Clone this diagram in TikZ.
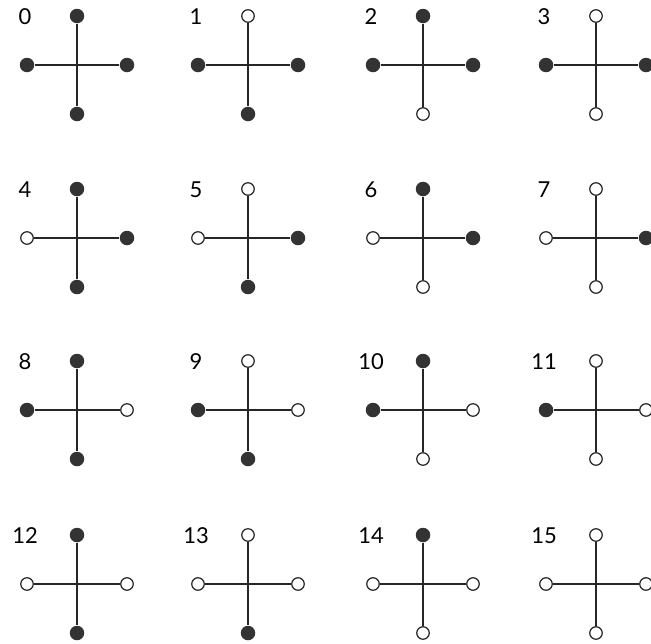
\documentclass[tikz,border=0pt]{standalone}
\usepackage{fontspec}
\setmainfont{Lato}
\begin{document}
\begin{tikzpicture}[x=0.02cm,y=-0.02cm,
	plein/.style={circle,fill=black!80,inner sep=0pt,minimum size=0.29cm},
	vide/.style={circle,draw=black!85,fill=white,line width=0.7pt,inner sep=0pt,minimum size=0.25cm},
	bras/.style={line width=1.3pt,black!85},
	numero/.style={font=\fontsize{12.5}{14}\selectfont}]
	\useasboundingbox (0,0) rectangle (651,643);
	%croix : numero/x/y/haut/bas/gauche/droite
	\foreach \n/\x/\y/\h/\b/\g/\d in {
		0/77/65/plein/plein/plein/plein,
		1/248/65/vide/plein/plein/plein,
		2/423/65/plein/vide/plein/plein,
		3/596/65/vide/vide/plein/plein,
		4/77/238/plein/plein/vide/plein,
		5/248/238/vide/plein/vide/plein,
		6/423/238/plein/vide/vide/plein,
		7/596/238/vide/vide/vide/plein,
		8/77/410/plein/plein/plein/vide,
		9/248/410/vide/plein/plein/vide,
		10/423/410/plein/vide/plein/vide,
		11/596/410/vide/vide/plein/vide,
		12/77/584/plein/plein/vide/vide,
		13/248/584/vide/plein/vide/vide,
		14/423/584/plein/vide/vide/vide,
		15/596/584/vide/vide/vide/vide}{
		%extremites
		\node[\h] (h\n) at (\x,\y-49) {};
		\node[\b] (b\n) at (\x,\y+49) {};
		\node[\g] (g\n) at (\x-50,\y) {};
		\node[\d] (d\n) at (\x+50,\y) {};
		%bras
		\draw[bras] (h\n) -- (b\n);
		\draw[bras] (g\n) -- (d\n);
		%numero
		\node[numero] (n\n) at (\x-52,\y-48) {\n};
	}
\end{tikzpicture}
\end{document}
